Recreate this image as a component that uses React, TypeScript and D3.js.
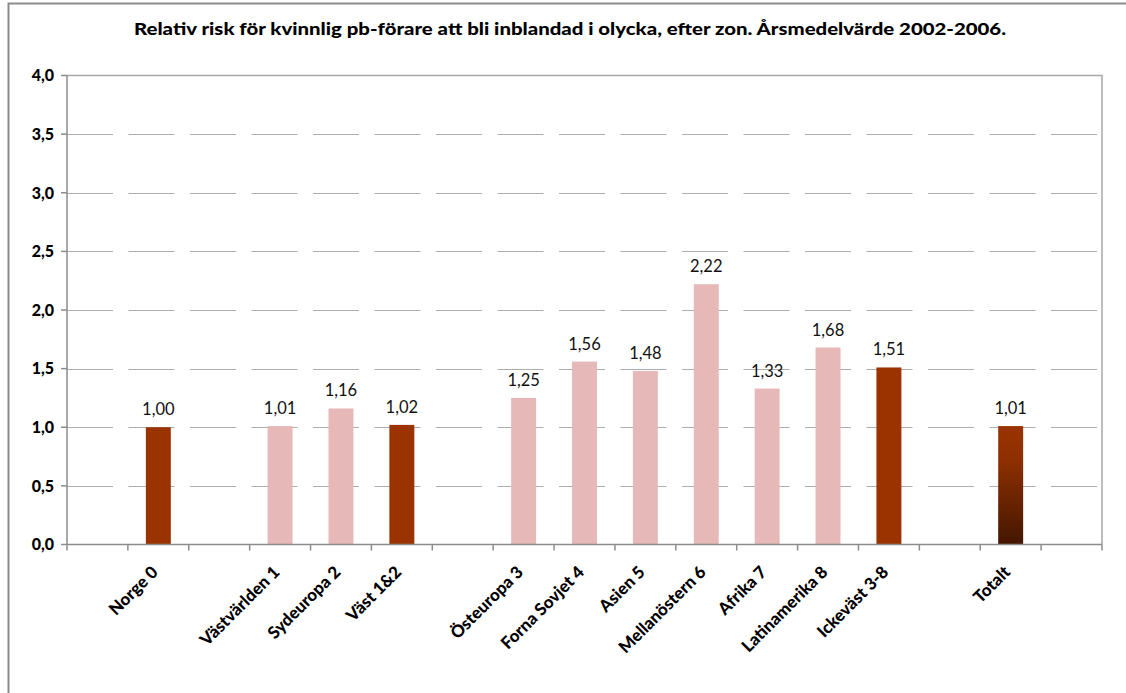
import React, { useEffect, useRef } from 'react';
import * as d3 from 'd3';

// kategorier (tomma strängar = luckor i diagrammet)
const categories = [
  '', 'Norge 0', '', 'Västvärlden 1', 'Sydeuropa 2', 'Väst 1&2', '',
  'Östeuropa 3', 'Forna Sovjet 4', 'Asien 5', 'Mellanöstern 6', 'Afrika 7',
  'Latinamerika 8', 'Ickeväst 3-8', '', 'Totalt', '',
];
const values: (number | null)[] = [
  null, 1.0, null, 1.01, 1.16, 1.02, null,
  1.25, 1.56, 1.48, 2.22, 1.33, 1.68, 1.51, null, 1.01, null,
];
const aggregates = ['Norge 0', 'Väst 1&2', 'Ickeväst 3-8'];
const totalCategory = 'Totalt';
const yTicks = [0, 0.5, 1, 1.5, 2, 2.5, 3, 3.5, 4];

const title = 'Relativ risk för kvinnlig pb-förare att bli inblandad i olycka, efter zon. Årsmedelvärde 2002-2006.';

const W = 1126;
const H = 693;
const FONT = 'Lato, "Open Sans", sans-serif';

export default function App() {
  const svgRef = useRef<SVGSVGElement>(null);

  useEffect(() => {
    if (!svgRef.current) return;
    const svg = d3.select(svgRef.current);
    svg.selectAll('*').remove();

    const left = 67, right = 1102, top = 75.5, bottom = 544.5;

    const x = d3.scaleBand<number>()
      .domain(d3.range(categories.length))
      .range([left, right])
      .paddingInner(0.59)
      .paddingOuter(0.295);
    const step = x.step();
    const y = d3.scaleLinear().domain([0, 4]).range([bottom, top]);

    const defs = svg.append('defs');
    const grad = defs.append('linearGradient')
      .attr('id', 'totalGrad')
      .attr('x1', 0).attr('y1', 0).attr('x2', 0).attr('y2', 1);
    grad.append('stop').attr('offset', '0%').attr('stop-color', '#9a3300');
    grad.append('stop').attr('offset', '30%').attr('stop-color', '#8c2f00');
    grad.append('stop').attr('offset', '100%').attr('stop-color', '#431600');

    // yttre ram
    svg.append('rect')
      .attr('x', 8.5).attr('y', 3.5)
      .attr('width', W + 10).attr('height', H + 10)
      .attr('fill', 'white')
      .attr('stroke', '#8c8c8c')
      .attr('stroke-width', 2);

    // titel
    svg.append('text')
      .attr('x', 570).attr('y', 35)
      .attr('text-anchor', 'middle')
      .style('font-family', FONT)
      .style('font-weight', 900)
      .style('font-size', '17.5px')
      .attr('textLength', 872)
      .attr('lengthAdjust', 'spacingAndGlyphs')
      .text(title);

    // stödlinjer
    svg.append('g')
      .selectAll('line')
      .data(yTicks.filter(t => t > 0 && t < 4))
      .join('line')
      .attr('x1', left).attr('x2', right - 4)
      .attr('y1', d => Math.round(y(d)) + 0.5)
      .attr('y2', d => Math.round(y(d)) + 0.5)
      .attr('stroke', '#adadad')
      .attr('stroke-width', 1)
      .attr('stroke-dasharray', '46 15.5');

    // staplar
    svg.append('g')
      .selectAll('rect')
      .data(d3.range(categories.length).filter(i => values[i] != null))
      .join('rect')
      .attr('x', i => x(i)!)
      .attr('width', x.bandwidth())
      .attr('y', i => y(values[i]!))
      .attr('height', i => bottom - y(values[i]!))
      .attr('fill', i => categories[i] === totalCategory
        ? 'url(#totalGrad)'
        : aggregates.includes(categories[i]) ? '#9a3300' : '#e6b9b8');

    // värdeetiketter
    svg.append('g')
      .selectAll('text')
      .data(d3.range(categories.length).filter(i => values[i] != null))
      .join('text')
      .attr('x', i => x(i)! + x.bandwidth() / 2)
      .attr('y', i => y(values[i]!) - 12)
      .attr('text-anchor', 'middle')
      .style('font-family', FONT)
      .style('font-size', '16.5px')
      .attr('fill', '#111')
      .text(i => d3.format('.2f')(values[i]!).replace('.', ','));

    // plotram
    svg.append('path')
      .attr('d', `M${left},${top}H${right}V${bottom}`)
      .attr('fill', 'none')
      .attr('stroke', '#a8a8a8')
      .attr('stroke-width', 1.5);

    // y-axel
    const yAxis = svg.append('g');
    yAxis.append('line')
      .attr('x1', left).attr('x2', left)
      .attr('y1', top).attr('y2', bottom)
      .attr('stroke', '#8c8c8c').attr('stroke-width', 1.5);
    yAxis.selectAll('line.tick')
      .data(yTicks)
      .join('line')
      .attr('class', 'tick')
      .attr('x1', left - 6).attr('x2', left)
      .attr('y1', d => y(d)).attr('y2', d => y(d))
      .attr('stroke', '#8c8c8c').attr('stroke-width', 1.5);
    yAxis.selectAll('text')
      .data(yTicks)
      .join('text')
      .attr('x', 54)
      .attr('y', d => y(d))
      .attr('dy', '0.36em')
      .attr('text-anchor', 'end')
      .style('font-family', FONT)
      .style('font-weight', 900)
      .style('font-size', '16px')
      .text(d => d3.format('.1f')(d).replace('.', ','));

    // x-axel
    const xAxis = svg.append('g');
    xAxis.append('line')
      .attr('x1', left).attr('x2', right)
      .attr('y1', bottom).attr('y2', bottom)
      .attr('stroke', '#8c8c8c').attr('stroke-width', 1.5);
    xAxis.selectAll('line.tick')
      .data(d3.range(categories.length + 1))
      .join('line')
      .attr('class', 'tick')
      .attr('x1', i => left + i * step).attr('x2', i => left + i * step)
      .attr('y1', bottom).attr('y2', bottom + 6)
      .attr('stroke', '#8c8c8c').attr('stroke-width', 1.5);
    xAxis.selectAll('text')
      .data(d3.range(categories.length).filter(i => categories[i] !== ''))
      .join('text')
      .attr('transform', i => `translate(${x(i)! + x.bandwidth() / 2 - 8},${bottom + 20}) rotate(-45)`)
      .attr('text-anchor', 'end')
      .attr('dy', '0.72em')
      .style('font-family', FONT)
      .style('font-weight', 900)
      .style('font-size', '17px')
      .text(i => categories[i]);
  }, []);

  return (
    <svg
      ref={svgRef}
      width={W}
      height={H}
      style={{ position: 'absolute', left: 0, top: 0, background: 'white' }}
    />
  );
}
